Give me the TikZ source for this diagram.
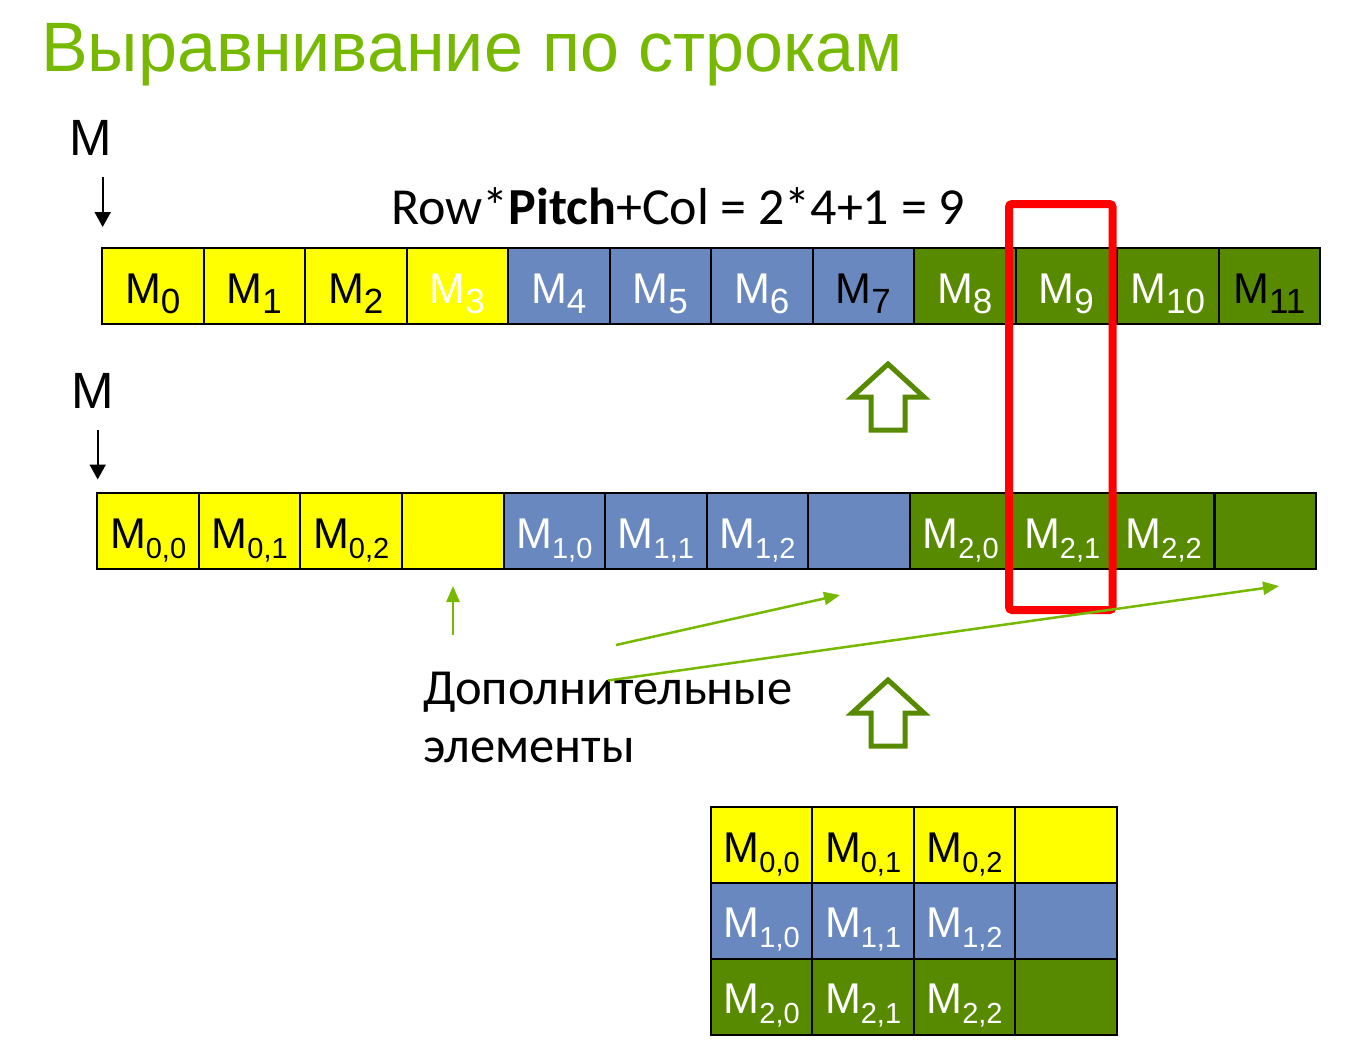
\documentclass[tikz,border=0pt]{standalone}
\usepackage{fontspec}
\setmainfont{Liberation Sans}
\newfontfamily\calib{Carlito}
\usetikzlibrary{arrows.meta}
\definecolor{ttlgreen}{RGB}{118,185,0}
\definecolor{cyel}{RGB}{255,255,0}
\definecolor{cblue}{RGB}{106,136,192}
\definecolor{cgreen}{RGB}{88,138,0}
\newcommand{\fs}[1]{\fontsize{#1}{#1}\selectfont}
% element name with a lowered index
\newcommand{\msub}[2]{{\fs{43}M}\raisebox{-10pt}{\fs{#2}#1}}
\begin{document}
\begin{tikzpicture}[x=1pt,y=-1pt,
  cell/.style={draw=black, line width=2pt, minimum width=101.5pt, minimum height=76pt,
    inner sep=0pt, text height=40pt, text depth=5.5pt},
  label/.style={anchor=base west, inner sep=0pt},
  ptr/.style={draw=black, line width=2pt, -{Triangle[length=15pt,width=16pt]}},
  note/.style={draw=ttlgreen, line width=2.5pt, -{Triangle[length=16pt,width=13pt]}},
  blockarrow/.style={draw=cgreen, line width=5pt, miter limit=10},
  selbox/.style={draw=red, line width=8pt, rounded corners=3pt, inner sep=0pt}]
\useasboundingbox (0,0) rectangle (1361,1041);
\fill[white] (0,0) rectangle (1361,1041);

% heading
\node[label, text=ttlgreen, font=\fs{70}] (title) at (41,72) {Выравнивание по строкам};

% pointer labels
\node[label, font=\fs{51}] (mtop) at (69,155) {M};
\node[label, font=\fs{51}] (mmid) at (71,408.3) {M};
\coordinate (p1s) at (102.7,176.7);
\coordinate (p1e) at (102.7,227);
\coordinate (p2s) at (97.7,430);
\coordinate (p2e) at (97.7,479.5);
\draw[ptr] (p1s) -- (p1e);
\draw[ptr] (p2s) -- (p2e);

% address formula
\node[label, font=\calib\fs{52}] (formula) at (391,224) {Row*\textbf{Pitch}+Col = 2*4+1 = 9};

% linear memory, 12 elements
\foreach \i/\col/\tc in {0/cyel/black,1/cyel/black,2/cyel/black,3/cyel/white,
    4/cblue/white,5/cblue/white,6/cblue/white,7/cblue/black,
    8/cgreen/white,9/cgreen/white,10/cgreen/white,11/cgreen/black}
  \node[cell, fill=\col, text=\tc] (t\i) at ({102+101.5*(\i+0.5)},285.75) {\msub{\i}{35}};

% pitched memory and the 2D matrix
\foreach \r/\col/\tc in {0/cyel/black,1/cblue/white,2/cgreen/white} {
  \foreach \c in {0,1,2} {
    \pgfmathtruncatemacro\k{4*\r+\c}
    \node[cell, fill=\col, text=\tc] (r\k) at ({97.3+101.56*(\k+0.5)},531) {\msub{\r,\c}{29}};
    \node[cell, fill=\col, text=\tc] (m\r\c) at ({711+101.4*(\c+0.5)},{807+75.8*(\r+0.5)}) {\msub{\r,\c}{29}};
  }
  \pgfmathtruncatemacro\k{4*\r+3}
  \node[cell, fill=\col] (r\k) at ({97.3+101.56*(\k+0.5)},531) {};
  \node[cell, fill=\col] (m\r3) at ({711+101.4*3.5},{807+75.8*(\r+0.5)}) {};
}

% selected element
\node[selbox, minimum width=103.5pt, minimum height=406pt] (sel) at (1060.75,407) {};

% hollow block arrows
\draw[blockarrow] (888,364) -- (924,397) -- (905,397) -- (905,430) -- (871,430)
  -- (871,397) -- (852,397) -- cycle;
\draw[blockarrow] (888,680) -- (924,713) -- (905,713) -- (905,746) -- (871,746)
  -- (871,713) -- (852,713) -- cycle;

% padding note
\node[label, font=\calib\fs{50.5}] (pad1) at (423,704) {Дополнительные};
\node[label, font=\calib\fs{50.5}] (pad2) at (423,762) {элементы};
\coordinate (n1s) at (453,635);
\coordinate (n1e) at (453,586);
\coordinate (n2s) at (616,645);
\coordinate (n2e) at (840,595);
\coordinate (n3s) at (608,680.5);
\coordinate (n3e) at (1279,586);
\draw[note] (n1s) -- (n1e);
\draw[note] (n2s) -- (n2e);
\draw[note] (n3s) -- (n3e);
\end{tikzpicture}
\end{document}
